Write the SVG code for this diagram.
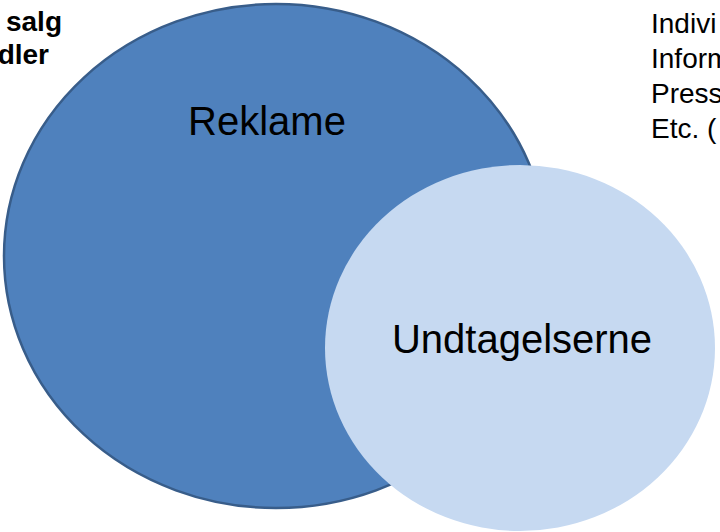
<svg xmlns="http://www.w3.org/2000/svg" width="720" height="532" viewBox="0 0 720 532">
<style>
.lbl{font-family:"Liberation Sans",Arial,sans-serif;fill:#000}
.big{font-size:40px;text-anchor:middle}
.side{font-size:28px}
.bold{font-size:28px;font-weight:bold;text-anchor:end}
</style>
<rect width="720" height="532" fill="#ffffff"/>
<g id="side-left">
<text class="lbl bold" x="62" y="31">salg</text>
<text class="lbl bold" x="49" y="64">dler</text>
</g>
<g id="side-right">
<text class="lbl side" x="651" y="33">Indivi</text>
<text class="lbl side" x="651" y="68">Inform</text>
<text class="lbl side" x="651" y="103">Press</text>
<text class="lbl side" x="651" y="138">Etc. (</text>
</g>
<g id="reklame">
<ellipse cx="276" cy="256" rx="272" ry="252" fill="#4f81bd" stroke="#385d8a" stroke-width="2.5"/>
<text class="lbl big" x="267" y="135">Reklame</text>
</g>
<g id="undtagelserne">
<ellipse cx="520" cy="348" rx="195" ry="183" fill="#c6d9f1"/>
<text class="lbl big" x="522" y="353">Undtagelserne</text>
</g>
<g id="connectors"></g>
</svg>
